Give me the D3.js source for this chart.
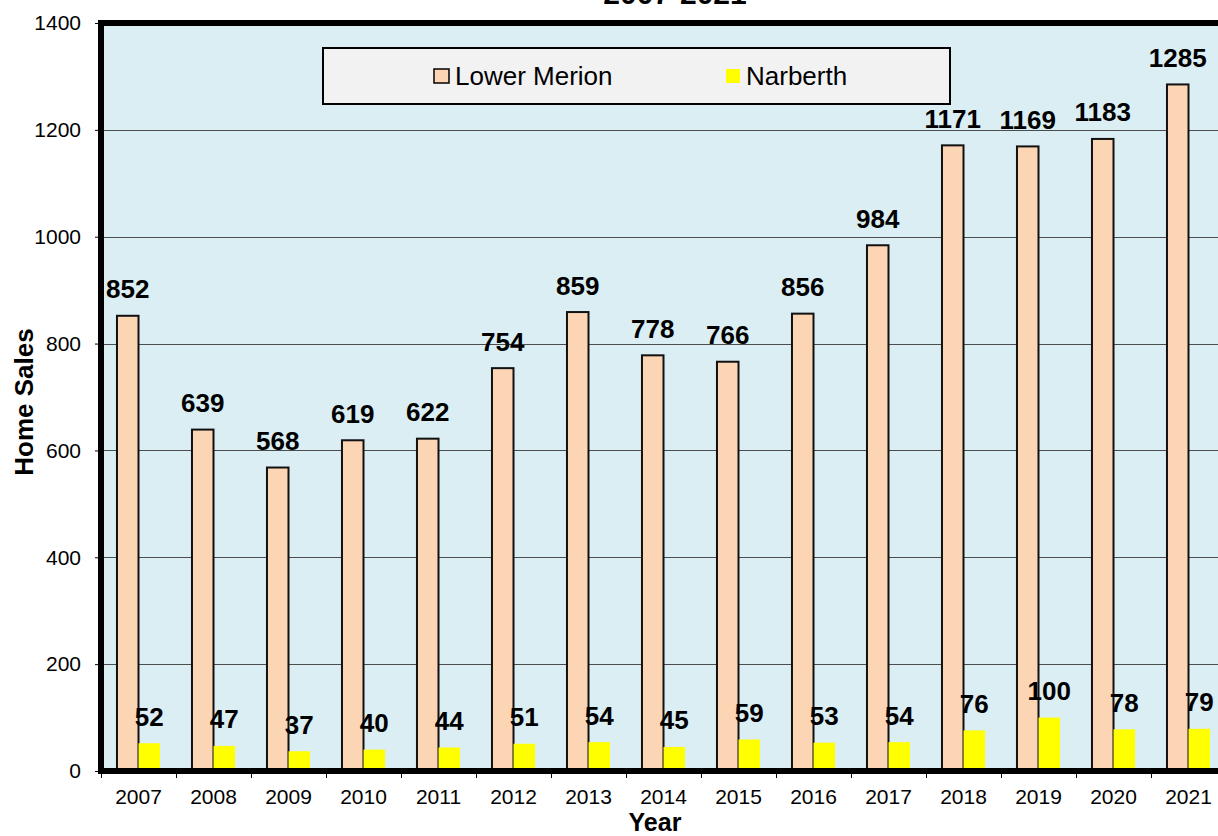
<!DOCTYPE html>
<html>
<head>
<meta charset="utf-8">
<script src="https://cdn.jsdelivr.net/npm/d3@7"></script>
<style>
  html, body { margin: 0; padding: 0; background: #ffffff; overflow: hidden; }
  svg { display: block; font-family: "Liberation Sans", Arial, sans-serif; }
</style>
</head>
<body>
<svg id="chart" width="1218" height="836"></svg>
<script>
const years = ["2007","2008","2009","2010","2011","2012","2013","2014","2015","2016","2017","2018","2019","2020","2021"];
const seriesNames = ["Lower Merion", "Narberth"];
const lowerMerion = [852, 639, 568, 619, 622, 754, 859, 778, 766, 856, 984, 1171, 1169, 1183, 1285];
const narberth = [52, 47, 37, 40, 44, 51, 54, 45, 59, 53, 54, 76, 100, 78, 79];
const yTicks = [0, 200, 400, 600, 800, 1000, 1200, 1400];
const titleText = "2007-2021";
const xTitle = "Year";
const yTitle = "Home Sales";

const colors = { "Lower Merion": "#fcd5b5", "Narberth": "#ffff00" };

(function () {
const svg = d3.select("#chart");
const pL = 101, pT = 23, pR = 1226, pB = 771;

const x0 = d3.scaleBand().domain(years).range([pL, pR]).padding(0);
const x1 = d3.scaleBand().domain(seriesNames)
  .range([x0.bandwidth() * 0.213, x0.bandwidth() * 0.787]).padding(0);
const y = d3.scaleLinear().domain([0, 1400]).range([pB, pT]);

// Title (mostly cut off at top, as in the reference)
svg.append("text").attr("x", 675).attr("y", 4).attr("text-anchor", "middle")
  .attr("font-size", 30).attr("font-weight", "bold").attr("fill", "#000").text(titleText);

// Plot background
svg.append("rect").attr("x", pL).attr("y", pT)
  .attr("width", pR - pL).attr("height", pB - pT)
  .attr("fill", "#daeef3");

// Gridlines
svg.append("g").selectAll("line").data(yTicks.filter(d => d > 0 && d < 1400)).join("line")
  .attr("x1", pL).attr("x2", pR)
  .attr("y1", d => Math.round(y(d)) + 0.5).attr("y2", d => Math.round(y(d)) + 0.5)
  .attr("stroke", "#4d4d4d").attr("stroke-width", 1);

// Data rows
const rows = years.map((yr, i) => ({ year: yr, values: [
  { key: "Lower Merion", value: lowerMerion[i] },
  { key: "Narberth", value: narberth[i] }
]}));

const groups = svg.append("g").selectAll("g").data(rows).join("g")
  .attr("transform", d => `translate(${x0(d.year)},0)`);

groups.selectAll("rect").data(d => d.values).join("rect")
  .attr("x", d => x1(d.key))
  .attr("y", d => y(d.value))
  .attr("width", x1.bandwidth())
  .attr("height", d => y(0) - y(d.value))
  .attr("fill", d => colors[d.key])
  .attr("stroke", d => d.key === "Lower Merion" ? "#111" : "none")
  .attr("stroke-width", 2);

// Frame (thick black)
svg.append("rect").attr("x", pL).attr("y", pT)
  .attr("width", pR - pL).attr("height", pB - pT)
  .attr("fill", "none").attr("stroke", "#000").attr("stroke-width", 6);

// Value labels
groups.selectAll("text.val").data(d => d.values).join("text")
  .attr("class", "val")
  .attr("x", d => x1(d.key) + x1.bandwidth() / 2)
  .attr("y", d => y(d.value) - 17.5)
  .attr("text-anchor", "middle")
  .attr("font-size", 26).attr("font-weight", "bold").attr("fill", "#000")
  .text(d => d.value);

// Y axis
const yAxis = d3.axisLeft(y).tickValues(yTicks).tickSize(6).tickPadding(14).tickFormat(d3.format("d"));
const yg = svg.append("g").attr("transform", `translate(${pL},0)`).call(yAxis);
yg.select(".domain").remove();
yg.selectAll(".tick line").attr("stroke", "#000").attr("stroke-width", 1);
yg.selectAll(".tick text").attr("font-size", 21).attr("fill", "#000")
  .attr("font-family", "Liberation Sans, Arial, sans-serif");

// X axis (ticks at category boundaries)
const xg = svg.append("g").attr("transform", `translate(0,${pB})`);
const boundaries = years.map(yr => x0(yr)).concat([pR]);
xg.selectAll("line").data(boundaries).join("line")
  .attr("x1", d => d + 0.5).attr("x2", d => d + 0.5)
  .attr("y1", 0).attr("y2", 7).attr("stroke", "#000").attr("stroke-width", 1);
xg.selectAll("text").data(years).join("text")
  .attr("x", d => x0(d) + x0.bandwidth() / 2)
  .attr("y", 33)
  .attr("text-anchor", "middle")
  .attr("font-size", 21).attr("fill", "#000").text(d => d);

// Axis titles
svg.append("text").attr("x", 655).attr("y", 831).attr("text-anchor", "middle")
  .attr("font-size", 25).attr("font-weight", "bold").attr("fill", "#000").text(xTitle);
svg.append("text").attr("transform", "translate(33,402) rotate(-90)")
  .attr("text-anchor", "middle")
  .attr("font-size", 26).attr("font-weight", "bold").attr("fill", "#000").text(yTitle);

// Legend
const lg = svg.append("g");
lg.append("rect").attr("x", 323).attr("y", 48).attr("width", 627).attr("height", 56)
  .attr("fill", "#f2f2f2").attr("stroke", "#000").attr("stroke-width", 2);
const legendItems = [
  { key: seriesNames[0], sx: 434, sw: 15, tx: 455, stroke: "#000" },
  { key: seriesNames[1], sx: 726, sw: 14, tx: 746, stroke: "none" }
];
legendItems.forEach(it => {
  lg.append("rect").attr("x", it.sx).attr("y", 69).attr("width", it.sw).attr("height", 14)
    .attr("fill", colors[it.key]).attr("stroke", it.stroke).attr("stroke-width", 1.5);
  lg.append("text").attr("x", it.tx).attr("y", 85)
    .attr("font-size", 26).attr("fill", "#000").text(it.key);
});
})();
</script>
</body>
</html>
